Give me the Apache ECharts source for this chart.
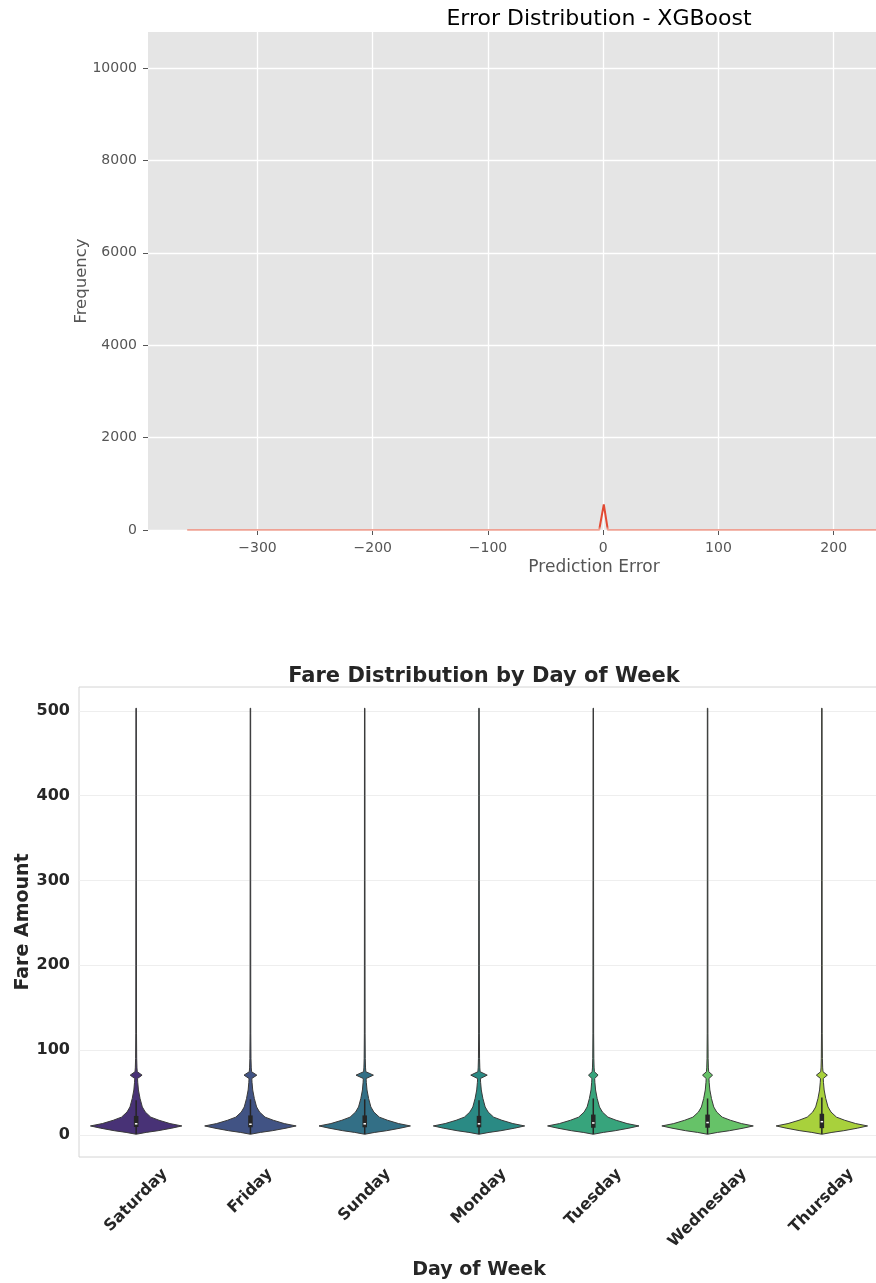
<!DOCTYPE html>
<html>
<head>
<meta charset="utf-8">
<script src="https://cdn.jsdelivr.net/npm/echarts@6/dist/echarts.min.js"></script>
<style>
  html, body { margin: 0; padding: 0; background: #fff; }
  #main { width: 876px; height: 1283px; }
</style>
</head>
<body>
<div id="main"></div>
<script>
// --- top chart: prediction error curve (XGBoost)
const errorX = [-361, -3.5, 0.5, 4, 330];
const errorFreq = [0, 0, 555, 0, 0];
const errorTicks = [-300, -200, -100, 0, 100, 200, 300];
const freqTicks = [0, 2000, 4000, 6000, 8000, 10000];

// --- bottom chart: fare violins by day
const days = ['Saturday', 'Friday', 'Sunday', 'Monday', 'Tuesday', 'Wednesday', 'Thursday'];
const fareTicks = [0, 100, 200, 300, 400, 500];
// shared density outline (relative width, 1 = widest)
const fareLevels = [0.8, 3, 5, 8, 10.6, 13.4, 17.3, 21, 27, 33, 43, 53, 62, 66.5, 70.5, 74.5, 79, 90, 120, 200, 300, 400, 503];
const densityProfile = [0, 0.22, 0.48, 0.78, 1, 0.74, 0.5, 0.32, 0.2, 0.135, 0.085, 0.05, 0.035, 0.03, 0.03, 0.025, 0.018, 0.012, 0.008, 0.007, 0.006, 0.006, 0.005];
// extra bump near 70 (the little diamond)
const bumpLevel = 70.5;
const bumpDensity = [0.1, 0.11, 0.16, 0.15, 0.075, 0.08, 0.09];
const fareQ1 = [9.4, 9, 9, 9, 8.5, 8.5, 8];
const fareMedian = [14, 13.5, 14, 14, 15, 15.5, 16.5];
const fareQ3 = [22.4, 23, 23, 22.5, 24, 24, 25];
const whiskerLow = [1, 1, 1, 1, 1, 1, 1];
const whiskerHigh = [41, 42, 42, 41, 43, 43, 44];

const violinColors = ['#483276', '#415384', '#336f86', '#2a8a84', '#37a47c', '#66c268', '#a8d13c'];
const fareMin = -26;
const labelFont = 'bold 16px "DejaVu Sans"';

const measureCtx = document.createElement('canvas').getContext('2d');
measureCtx.font = labelFont;

let mychart = echarts.init(document.getElementById('main'));
let option = {
  animation: false,
  textStyle: { fontFamily: 'DejaVu Sans' },
  title: [{
    text: 'Error Distribution - XGBoost',
    left: 594, top: 3, textAlign: 'center',
    textStyle: { fontSize: 22, fontWeight: 'normal', color: '#000' }
  }, {
    text: 'Fare Distribution by Day of Week',
    left: 479, top: 661, textAlign: 'center',
    textStyle: { fontSize: 21, fontWeight: 'bold', color: '#262626' }
  }],
  grid: [{
    left: 148, top: 32, width: 892, height: 498,
    show: true, backgroundColor: '#E5E5E5', borderWidth: 0,
    outerBoundsMode: 'none'
  }, {
    left: 79, top: 687, width: 800, height: 470,
    show: true, backgroundColor: '#fff', borderColor: '#d4d4d4', borderWidth: 1,
    outerBoundsMode: 'none'
  }],
  xAxis: [{
    gridIndex: 0, type: 'value', min: -395, max: 379,
    axisLine: { show: false, onZero: false },
    axisTick: { show: true, length: 5, customValues: errorTicks, lineStyle: { color: '#555' } },
    axisLabel: {
      customValues: errorTicks, color: '#555', fontSize: 14, margin: 11,
      formatter: function (v) { return v < 0 ? '\u2212' + Math.abs(v) : String(v); }
    },
    splitLine: { show: true, lineStyle: { color: '#fff', width: 1.3 } },
    name: 'Prediction Error', nameLocation: 'middle', nameGap: 29, nameMoveOverlap: false,
    nameTextStyle: { color: '#555', fontSize: 17 }
  }, {
    gridIndex: 1, type: 'category', data: days,
    axisLine: { show: false, onZero: false }, axisTick: { show: false }, axisLabel: { show: false },
    splitLine: { show: false },
    name: 'Day of Week', nameLocation: 'middle', nameGap: 104, nameMoveOverlap: false,
    nameTextStyle: { color: '#262626', fontSize: 19, fontWeight: 'bold' }
  }],
  yAxis: [{
    gridIndex: 0, type: 'value', min: 0, max: 10780,
    axisLine: { show: false, onZero: false },
    axisTick: { show: true, length: 5, customValues: freqTicks, lineStyle: { color: '#555' } },
    axisLabel: {
      customValues: freqTicks, color: '#555', fontSize: 14, margin: 11,
      formatter: function (v) { return String(v); }
    },
    splitLine: { show: true, lineStyle: { color: '#fff', width: 1.3 } },
    name: 'Frequency', nameLocation: 'middle', nameGap: 58, nameMoveOverlap: false,
    nameTextStyle: { color: '#555', fontSize: 16.5 }
  }, {
    gridIndex: 1, type: 'value', min: fareMin, max: 528,
    axisLine: { show: false, onZero: false },
    axisTick: { show: false, customValues: fareTicks },
    axisLabel: { customValues: fareTicks, color: '#262626', fontSize: 16, fontWeight: 'bold', margin: 9 },
    splitLine: { show: true, lineStyle: { color: '#eeeeee', width: 1 } },
    name: 'Fare Amount', nameLocation: 'middle', nameGap: 46, nameMoveOverlap: false,
    nameTextStyle: { color: '#262626', fontSize: 19, fontWeight: 'bold' }
  }],
  series: [{
    type: 'line',
    xAxisIndex: 0, yAxisIndex: 0,
    data: errorX.map(function (x, k) { return [x, errorFreq[k]]; }),
    showSymbol: false,
    lineStyle: {
      width: 2,
      // peak is solid red, the flat part along the bottom edge looks faint
      color: new echarts.graphic.LinearGradient(0, 0, 0, 1, [
        { offset: 0, color: '#E24A33' },
        { offset: 0.8, color: '#E24A33' },
        { offset: 0.93, color: '#f3b9ae' },
        { offset: 1, color: '#f3b9ae' }
      ])
    },
    clip: true
  }, {
    type: 'custom',
    xAxisIndex: 1, yAxisIndex: 1,
    data: days.map(function (d, i) { return [i]; }),
    renderItem: function (params, api) {
      const i = api.value(0);
      const half = api.size([1, 0])[0] * 0.4;
      const left = [], right = [];
      fareLevels.forEach(function (f, k) {
        const d = densityProfile[k] + (f === bumpLevel ? bumpDensity[i] : 0);
        const p = api.coord([i, f]);
        left.push([p[0] - d * half, p[1]]);
        right.push([p[0] + d * half, p[1]]);
      });
      const outline = left.concat(right.reverse());
      const wLo = api.coord([i, whiskerLow[i]]);
      const wHi = api.coord([i, whiskerHigh[i]]);
      const bLo = api.coord([i, fareQ1[i]]);
      const bHi = api.coord([i, fareQ3[i]]);
      const med = api.coord([i, fareMedian[i]]);
      return {
        type: 'group',
        children: [
          { type: 'polygon', shape: { points: outline }, style: { fill: violinColors[i], stroke: '#3a3a3a', lineWidth: 1 } },
          { type: 'line', shape: { x1: wLo[0], y1: wLo[1], x2: wHi[0], y2: wHi[1] }, style: { stroke: '#262626', lineWidth: 1.5 } },
          { type: 'line', shape: { x1: bLo[0], y1: bLo[1], x2: bHi[0], y2: bHi[1] }, style: { stroke: '#262626', lineWidth: 4.5 } },
          { type: 'line', shape: { x1: med[0], y1: med[1], x2: med[0], y2: med[1] + 1.5 }, style: { stroke: '#fff', lineWidth: 2.5 } }
        ]
      };
    }
  }, {
    // rotated day labels, centred under each category like matplotlib
    type: 'custom',
    xAxisIndex: 1, yAxisIndex: 1,
    silent: true, clip: false,
    data: days.map(function (d, i) { return [i]; }),
    renderItem: function (params, api) {
      const i = api.value(0);
      const base = api.coord([i, fareMin]);
      const w = measureCtx.measureText(days[i]).width;
      const h = (w + 18.5) * Math.SQRT1_2;
      return {
        type: 'text',
        x: base[0], y: base[1] + 8 + h / 2,
        rotation: Math.PI / 4,
        style: {
          text: days[i], fontFamily: 'DejaVu Sans', fontSize: 16, fontWeight: 'bold',
          fill: '#262626', align: 'center', verticalAlign: 'middle'
        }
      };
    }
  }]
};
mychart.setOption(option);
</script>
</body>
</html>
